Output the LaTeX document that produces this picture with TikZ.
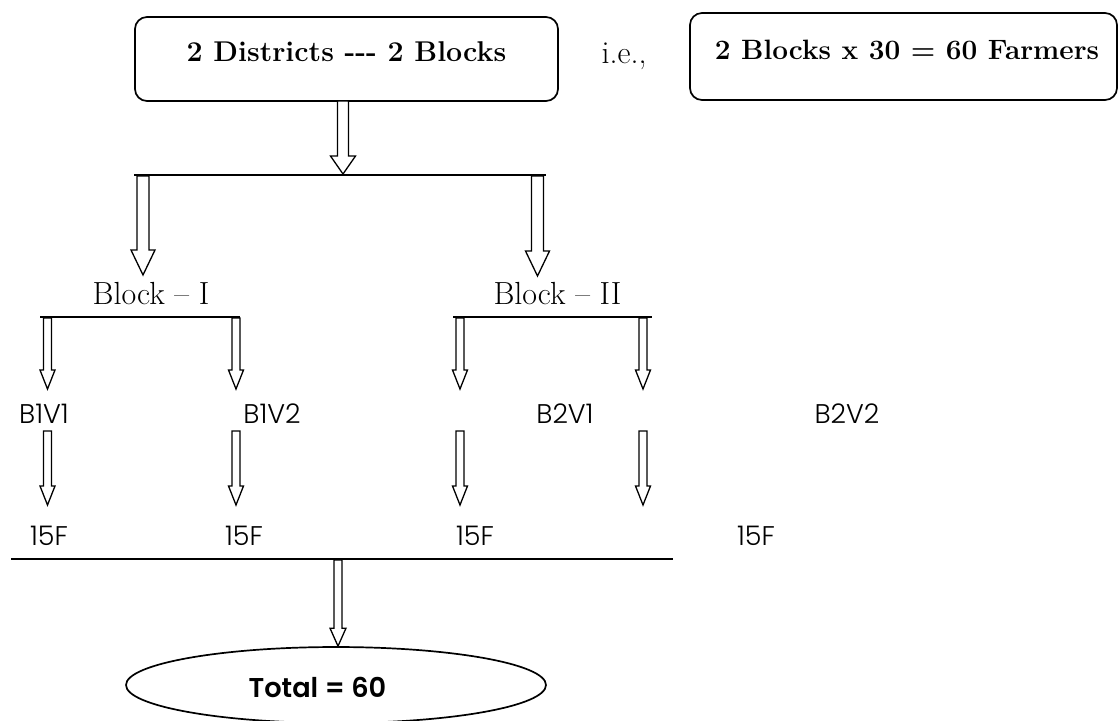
\documentclass[tikz,border=0pt]{standalone}
\usepackage{fontspec}
\newfontfamily\gothic{Poppins}[UprightFont={* Light}, BoldFont={* SemiBold}]
\usetikzlibrary{calc,shapes.geometric}
\newcommand\farrow[5]{%
  \draw[fill=white, line width=0.65pt, line join=miter]
    let \p1=(#1), \p2=(#2) in
    (\x1-#3,\y1) -- (\x1-#3,\y2+#5) -- (\x1-#4,\y2+#5) -- (\x1,\y2)
    -- (\x1+#4,\y2+#5) -- (\x1+#3,\y2+#5) -- (\x1+#3,\y1) -- cycle;}
\begin{document}
\begin{tikzpicture}[x=0.5pt,y=-0.5pt, line width=0.85pt,
  rbox/.style={draw, rounded corners=6pt, inner sep=0pt},
  btxt/.style={anchor=base, inner sep=0pt, font=\fontsize{14.3}{16}\selectfont\bfseries},
  rtxt/.style={anchor=base, inner sep=0pt, font=\fontsize{16}{18}\selectfont},
  gtxt/.style={anchor=base, inner sep=0pt, font=\fontsize{13.5}{16}\selectfont\gothic},
  ttxt/.style={anchor=base, inner sep=0pt, font=\fontsize{13.6}{18}\selectfont\gothic\bfseries},
  oval/.style={draw, ellipse, inner sep=0pt}]
\useasboundingbox (0,0) rectangle (1118,720);

% top boxes
\node[rbox, minimum width=211.5pt, minimum height=42pt] (topbox) at (346.5,59) {};
\node[btxt] (toptext) at (346.5,61) {2 Districts -{}-{}- 2 Blocks};
\node[rtxt] (ie) at (624,63) {i.e.,};
\node[rbox, minimum width=213.5pt, minimum height=43.5pt] (rightbox) at (903.5,56.5) {};
\node[btxt, font=\fontsize{14}{16}\selectfont\bfseries] (righttext) at (907,59) {2 Blocks x 30 = 60 Farmers};

% first split
\coordinate (a1s) at (343,101);
\coordinate (a1e) at (343,174);
\farrow{a1s}{a1e}{2.75pt}{6.25pt}{9pt}
\coordinate (l1a) at (134,175);
\coordinate (l1b) at (546,175);
\draw (l1a) -- (l1b);

\node[rtxt] (blockI) at (151,304) {Block – I};
\node[rtxt] (blockII) at (557.5,304) {Block – II};
\coordinate (aLs) at (143,176);
\coordinate (aLe) at (143,275);
\coordinate (aRs) at (537.5,176);
\coordinate (aRe) at (537.5,276);
\farrow{aLs}{aLe}{3pt}{6pt}{12.5pt}
\farrow{aRs}{aRe}{3pt}{6pt}{12.5pt}

% block lines
\coordinate (lIa) at (40,317);
\coordinate (lIb) at (240,317);
\coordinate (lIIa) at (453,317);
\coordinate (lIIb) at (652,317);
\draw (lIa) -- (lIb);
\draw (lIIa) -- (lIIb);

% villages
\node[gtxt] (b1v1) at (44,423) {B1V1};
\node[gtxt] (b1v2) at (272,423) {B1V2};
\node[gtxt] (b2v1) at (565,423) {B2V1};
\node[gtxt] (b2v2) at (847,423) {B2V2};

\foreach \k/\xx in {1/47.5,2/236,3/460,4/643}{
  \coordinate (ra\k-s) at (\xx,318);
  \coordinate (ra\k-e) at (\xx,389);
  \coordinate (rb\k-s) at (\xx,431);
  \coordinate (rb\k-e) at (\xx,505);
}
\foreach \k in {1,2,3,4}{
  \farrow{ra\k-s}{ra\k-e}{2pt}{3.75pt}{9.5pt}
  \farrow{rb\k-s}{rb\k-e}{2pt}{3.75pt}{9.5pt}
}

% farmers
\node[gtxt] (f1) at (49,545) {15F};
\node[gtxt] (f2) at (244,545) {15F};
\node[gtxt] (f3) at (475,545) {15F};
\node[gtxt] (f4) at (756,545) {15F};

\coordinate (lba) at (11,559);
\coordinate (lbb) at (673,559);
\draw (lba) -- (lbb);

% total
\node[oval, minimum width=210pt, minimum height=38pt] (total) at (336,685) {};
\node[ttxt] (totaltext) at (317.5,697) {Total = 60};
\coordinate (ats) at (338,560);
\farrow{ats}{total.north}{2pt}{4pt}{9pt}
\end{tikzpicture}
\end{document}
